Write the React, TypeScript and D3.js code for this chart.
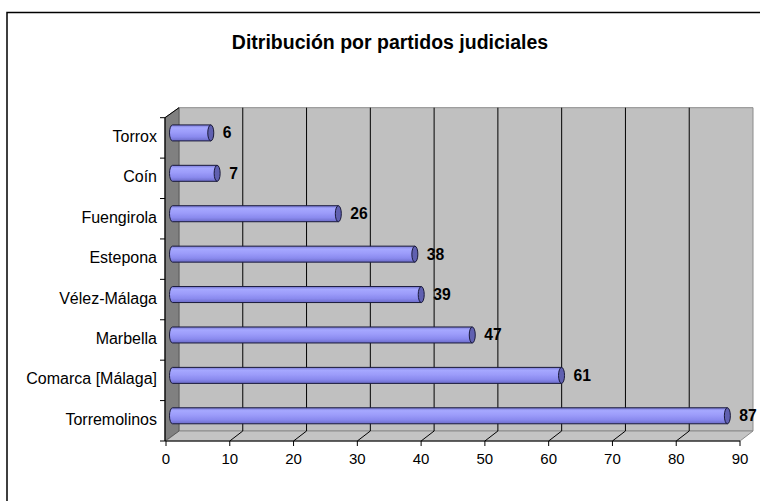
import React from "react";
import * as d3 from "d3";

const categories = ["Torrox", "Coín", "Fuengirola", "Estepona", "Vélez-Málaga", "Marbella", "Comarca [Málaga]", "Torremolinos"];
const values = [6, 7, 26, 38, 39, 47, 61, 87];
const xTicks = [0, 10, 20, 30, 40, 50, 60, 70, 80, 90];
const title = "Ditribución por partidos judiciales";

const W = 760, H = 501;
const X0 = 166, X1 = 740;
const YTOP = 117.7, YBOT = 441;
const DX = 13, DY = -10;
const FONT = "'Liberation Sans', Arial, sans-serif";

export default function App() {
  const x = d3.scaleLinear().domain([0, 90]).range([X0, X1]);
  const yb = d3.scaleBand<string>().domain(categories).range([YTOP, YBOT]);
  const barH = 16;
  const rx = 3;

  const wall = `M${X0 + DX},${YTOP + DY} L${X1 + DX},${YTOP + DY} L${X1 + DX},${YBOT + DY} L${X0 + DX},${YBOT + DY} Z`;
  const leftWall = `M${X0 - 1},${YTOP} L${X0 + DX},${YTOP + DY} L${X0 + DX},${YBOT + DY} L${X0 - 1},${YBOT} Z`;
  const floor = `M${X0},${YBOT} L${X1},${YBOT} L${X1 + DX},${YBOT + DY} L${X0 + DX},${YBOT + DY} Z`;

  return (
    <svg width={W} height={H} style={{ position: "absolute", left: 0, top: 0 }}>
      <defs>
        <linearGradient id="cyl" x1="0" y1="0" x2="0" y2="1">
          <stop offset="0%" stopColor="#7a7ad8" />
          <stop offset="18%" stopColor="#a6a8ff" />
          <stop offset="45%" stopColor="#9c9cfa" />
          <stop offset="75%" stopColor="#8a8aee" />
          <stop offset="100%" stopColor="#6b6bc8" />
        </linearGradient>
      </defs>
      <rect x={0} y={0} width={W} height={H} fill="#fff" />
      <rect x={7} y={12.5} width={W + 10} height={H + 10} fill="none" stroke="#000" strokeWidth={1.5} />
      <text x={390} y={48.7} textAnchor="middle" fontFamily={FONT} fontWeight="bold" fontSize={19.5}>{title}</text>

      <path d={wall} fill="#c0c0c0" stroke="#8c8c8c" strokeWidth={1} />
      <path d={floor} fill="#c4c4c4" stroke="#8c8c8c" strokeWidth={1} />
      <path d={leftWall} fill="#808080" stroke="#505050" strokeWidth={0.8} />

      {xTicks.slice(1, -1).map(v => (
        <g key={v}>
          <line x1={x(v) + DX} x2={x(v) + DX} y1={YTOP + DY} y2={YBOT + DY} stroke="#000" strokeWidth={1} />
          <line x1={x(v)} x2={x(v) + DX} y1={YBOT} y2={YBOT + DY} stroke="#000" strokeWidth={1} />
        </g>
      ))}

      {/* axes */}
      <line x1={X0 - 1} x2={X0 - 1} y1={YTOP} y2={YBOT} stroke="#000" strokeWidth={1.2} />
      <line x1={X0 - 1} x2={X0 + DX} y1={YTOP} y2={YTOP + DY} stroke="#000" strokeWidth={1} />
      <line x1={X0 - 1} x2={X1} y1={YBOT} y2={YBOT} stroke="#000" strokeWidth={1.2} />
      {xTicks.map(v => (
        <g key={v}>
          <line x1={x(v)} x2={x(v)} y1={YBOT} y2={YBOT + 5} stroke="#000" strokeWidth={1} />
          <text x={x(v)} y={464.3} textAnchor="middle" fontFamily={FONT} fontSize={15}>{v}</text>
        </g>
      ))}
      {categories.map((c, i) => (
        <g key={c}>
          <line x1={X0 - 6} x2={X0 - 1} y1={yb(c)!} y2={yb(c)!} stroke="#000" strokeWidth={1} />
          {i === categories.length - 1 && (
            <line x1={X0 - 6} x2={X0 - 1} y1={YBOT} y2={YBOT} stroke="#000" strokeWidth={1} />
          )}
          <text x={157} y={yb(c)! + yb.bandwidth() / 2 - 1.5} textAnchor="end" dominantBaseline="central" fontFamily={FONT} fontSize={16}>{c}</text>
        </g>
      ))}

      {categories.map((c, i) => {
        const cy = yb(c)! + yb.bandwidth() / 2 + DY / 2;
        const top = cy - barH / 2;
        const xs = X0 + DX / 2;
        const xe = x(values[i]) + DX / 2;
        const body = `M${xs},${top} L${xe},${top} L${xe},${top + barH} L${xs},${top + barH} A${rx},${barH / 2} 0 0 1 ${xs},${top} Z`;
        return (
          <g key={c}>
            <path d={body} fill="url(#cyl)" stroke="#1a1a3a" strokeWidth={1} />
            <ellipse cx={xe} cy={cy} rx={rx} ry={barH / 2} fill="#6060b0" stroke="#1a1a3a" strokeWidth={1} />
            <text x={xe + 12} y={cy} dominantBaseline="central" fontFamily={FONT} fontWeight="bold" fontSize={15.7}>{values[i]}</text>
          </g>
        );
      })}
    </svg>
  );
}
